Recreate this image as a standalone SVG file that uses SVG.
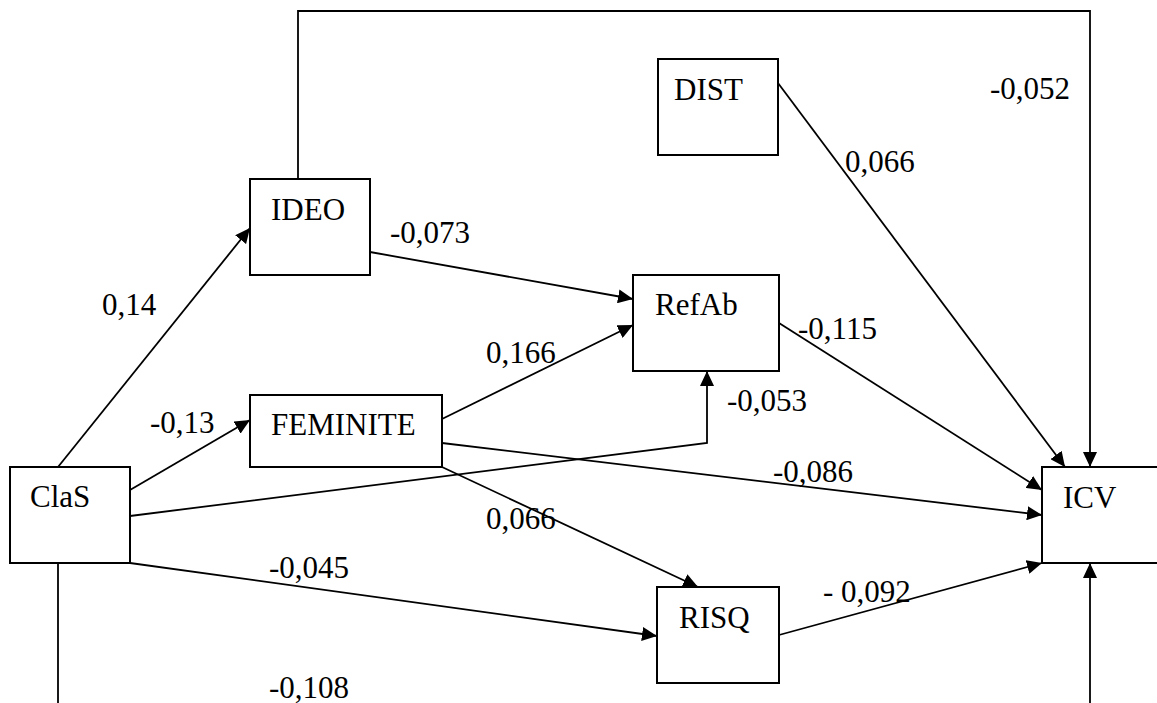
<svg xmlns="http://www.w3.org/2000/svg" width="1157" height="703" viewBox="0 0 1157 703">
  <defs>
    <marker id="arrow" markerUnits="userSpaceOnUse" markerWidth="16" markerHeight="14" refX="15" refY="7" orient="auto">
      <path d="M0,0 L15,7 L0,14 z" fill="#000"/>
    </marker>
    <style>
      .box { fill: #fff; stroke: #000; stroke-width: 2; }
      .lbl { font-family: "Liberation Serif", "DejaVu Serif", serif; font-size: 31px; fill: #000; }
      .edge { fill: none; stroke: #000; stroke-width: 1.8; }
      .arr { marker-end: url(#arrow); }
    </style>
  </defs>
  <rect width="1157" height="703" fill="#fff"/>

  <!-- paths between variables -->
  <g id="connectors">
    <!-- IDEO -> ICV, routed over the top -->
    <polyline class="edge arr" points="298,179 298,11 1090,11 1090,467"/>
    <!-- DIST -> ICV -->
    <line class="edge arr" x1="778" y1="83" x2="1065" y2="467"/>
    <!-- ClaS -> IDEO -->
    <line class="edge arr" x1="58" y1="467" x2="250" y2="228"/>
    <!-- ClaS -> FEMINITE -->
    <line class="edge arr" x1="130" y1="490" x2="250" y2="420"/>
    <!-- ClaS -> RefAb (elbow) -->
    <polyline class="edge arr" points="130,516 707,443 707,371"/>
    <!-- ClaS -> RISQ -->
    <line class="edge arr" x1="130" y1="563" x2="657" y2="636"/>
    <!-- ClaS -> ICV, routed below -->
    <polyline class="edge" points="58,563 58,703"/>
    <line class="edge arr" x1="1090" y1="703" x2="1090" y2="563"/>
    <!-- IDEO -> RefAb -->
    <line class="edge arr" x1="370" y1="252" x2="633" y2="299"/>
    <!-- FEMINITE -> RefAb -->
    <line class="edge arr" x1="442" y1="419" x2="633" y2="325"/>
    <!-- FEMINITE -> ICV -->
    <line class="edge arr" x1="442" y1="443" x2="1042" y2="515"/>
    <!-- FEMINITE -> RISQ -->
    <line class="edge arr" x1="442" y1="467" x2="698" y2="587"/>
    <!-- RefAb -> ICV -->
    <line class="edge arr" x1="779" y1="323" x2="1042" y2="490"/>
    <!-- RISQ -> ICV -->
    <line class="edge arr" x1="779" y1="635" x2="1042" y2="563"/>
  </g>

  <g id="node-IDEO">
    <rect class="box" x="250" y="179" width="120" height="96"/>
    <text class="lbl" x="271" y="220">IDEO</text>
  </g>
  <g id="node-DIST">
    <rect class="box" x="658" y="59" width="120" height="96"/>
    <text class="lbl" x="674" y="100">DIST</text>
  </g>
  <g id="node-RefAb">
    <rect class="box" x="633" y="275" width="146" height="96"/>
    <text class="lbl" x="655" y="315">RefAb</text>
  </g>
  <g id="node-FEMINITE">
    <rect class="box" x="250" y="395" width="192" height="72"/>
    <text class="lbl" x="271" y="435">FEMINITE</text>
  </g>
  <g id="node-ClaS">
    <rect class="box" x="10" y="467" width="120" height="96"/>
    <text class="lbl" x="30" y="507">ClaS</text>
  </g>
  <g id="node-RISQ">
    <rect class="box" x="657" y="587" width="122" height="96"/>
    <text class="lbl" x="679" y="628">RISQ</text>
  </g>
  <g id="node-ICV">
    <rect class="box" x="1042" y="467" width="130" height="96"/>
    <text class="lbl" x="1063" y="508">ICV</text>
  </g>

  <!-- path coefficients -->
  <g id="coefficients">
    <text class="lbl" x="990" y="99">-0,052</text>
    <text class="lbl" x="845" y="172">0,066</text>
    <text class="lbl" x="390" y="243">-0,073</text>
    <text class="lbl" x="102" y="315">0,14</text>
    <text class="lbl" x="798" y="339">-0,115</text>
    <text class="lbl" x="486" y="363">0,166</text>
    <text class="lbl" x="727" y="411">-0,053</text>
    <text class="lbl" x="150" y="433">-0,13</text>
    <text class="lbl" x="773" y="482">-0,086</text>
    <text class="lbl" x="486" y="529">0,066</text>
    <text class="lbl" x="269" y="578">-0,045</text>
    <text class="lbl" x="823" y="602">- 0,092</text>
    <text class="lbl" x="269" y="698">-0,108</text>
  </g>
</svg>
